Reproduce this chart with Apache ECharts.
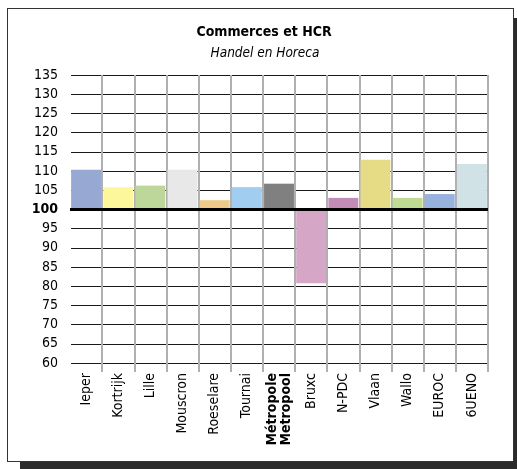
<!DOCTYPE html>
<html>
<head>
<meta charset="utf-8">
<script src="https://cdn.jsdelivr.net/npm/echarts@6/dist/echarts.min.js"></script>
<style>
html,body{margin:0;padding:0;width:517px;height:469px;overflow:hidden;background:#fff;}
#frame{position:absolute;left:7px;top:8px;width:505px;height:452px;border:1.5px solid #333;box-shadow:13px 10px 0 #2b2b2b;background:#fff;}
#chart{position:absolute;left:0;top:0;width:517px;height:469px;}
</style>
</head>
<body>
<div id="frame"></div>
<div id="chart"></div>
<script>
const categories = ['Ieper','Kortrijk','Lille','Mouscron','Roeselare','Tournai','Métropole\nMetropool','Bruxc','N-PDC','Vlaan','Wallo','EUROC','6UENO'];
const values = [110.3, 105.8, 106.2, 110.3, 102.4, 105.8, 106.7, 80.8, 103.0, 112.9, 103.0, 104.0, 111.8];
const colors = ['#97a8d2','#fdf79c','#bdd79a','#e8e8e8','#edc98a','#a0cdf0','#808080','#d5a6c6','#c28cb6','#e7dc86','#bfdb93','#97b2dc','#d0e2e6'];
const baseline = 100;
const yTicks = [60,65,70,75,80,85,90,95,100,105,110,115,120,125,130,135];

const fontFam = '"DejaVu Sans Condensed","DejaVu Sans",sans-serif';
const chart = echarts.init(document.getElementById('chart'), null, {renderer:'canvas'});
chart.setOption({
  animation:false,
  title:[
    {text:'Commerces et HCR', left:259, textAlign:'center', top:20, textStyle:{fontFamily:fontFam, fontSize:14, fontWeight:'bold', color:'#000'}},
    {text:'Handel en Horeca', left:260, textAlign:'center', top:41, textStyle:{fontFamily:fontFam, fontSize:13.5, fontStyle:'italic', fontWeight:'normal', color:'#000'}}
  ],
  grid:{left:70, right:29, top:75, bottom:106},
  xAxis:{
    type:'category', data:categories,
    axisLine:{show:false},
    axisTick:{show:true, length:9, lineStyle:{color:'#b0b0b0', width:2}},
    splitLine:{show:true, lineStyle:{color:'#b0b0b0', width:2}},
    axisLabel:{rotate:90, margin:10, color:'#000', fontFamily:fontFam, fontSize:14, interval:0,
      formatter:function(v){ return v.indexOf('\n')>=0 ? v.split('\n').map(s=>'{b|'+s+'}').join('\n') : v; },
      rich:{b:{fontWeight:'bold', fontFamily:fontFam, fontSize:14, color:'#000'}}
    }
  },
  yAxis:{
    type:'value', min:yTicks[0], max:yTicks[yTicks.length-1], interval:5,
    axisLine:{show:false}, axisTick:{show:false},
    splitLine:{show:true, lineStyle:{color:'#1a1a1a', width:1}},
    axisLabel:{margin:12, color:'#000', fontFamily:fontFam, fontSize:14,
      formatter:function(v){ return v===baseline ? '{b|'+v+'}' : String(v); },
      rich:{b:{fontWeight:'bold', fontFamily:fontFam, fontSize:14, color:'#000'}}
    }
  },
  graphic:[
    {type:'rect', left:68, top:70, shape:{width:3, height:306}, style:{fill:'#fff'}, z:1}
  ],
  series:[
    {type:'bar', stack:'s', barWidth:'93%', silent:true, z:3,
     itemStyle:{color:'transparent'},
     data:values.map(v=>Math.min(v,baseline))},
    {type:'bar', stack:'s', barWidth:'93%', z:3,
     data:values.map((v,i)=>({value:Math.abs(v-baseline), itemStyle:{color:colors[i]}})),
     markLine:{silent:true, symbol:'none', label:{show:false},
       lineStyle:{color:'#000', width:3, type:'solid'},
       data:[{yAxis:baseline}]}
    }
  ]
});
</script>
</body>
</html>
